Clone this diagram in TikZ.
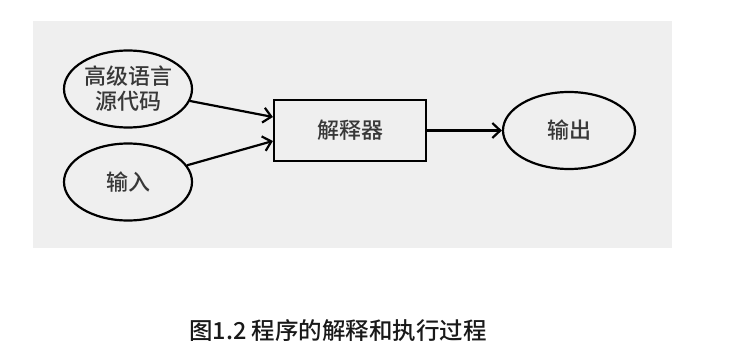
\documentclass[tikz,border=0pt]{standalone}
\usepackage{fontspec}
\setmainfont{Noto Sans CJK SC}[UprightFont=* Medium]
\usepackage{xcolor}
\definecolor{Panel}{HTML}{EFEFEF}
\definecolor{Ink}{HTML}{383838}
\usepackage{tikz}
\usetikzlibrary{arrows.meta,positioning,shapes.geometric}

\begin{document}
\begin{tikzpicture}[
  x=1pt,y=-1pt,
  every node/.style={font=\fontsize{22}{25}\selectfont,align=center,text=Ink},
  oval/.style={ellipse,draw=black,line width=2.2pt,inner sep=0pt,
    minimum width=128pt,minimum height=77pt},
  box/.style={rectangle,draw=black,line width=2.2pt,
    minimum width=152pt,minimum height=61pt},
  arrow/.style={-{Straight Barb[length=8pt,width=15pt]},line width=2.2pt}
]
\useasboundingbox (0,0) rectangle (738,353);
\fill[Panel] (33,21) rectangle (672,248);
\node[oval] (src) at (128,89) {高级语言\\源代码};
\node[oval] (input) at (128,182) {输入};
\node[box] (interp) at (350,130.5) {解释器};
\node[oval,minimum width=132pt,minimum height=77pt] (output) at (569,130.5) {输出};
\draw[arrow] (src) -- (interp.west|-0,117);
\draw[arrow] (input) -- (interp.west|-0,141);
\draw[arrow] (interp) -- (output);
\node[font=\fontsize{23.5}{26}\selectfont,text=black!90] (caption) at (338,331) {图1.2 程序的解释和执行过程};
\end{tikzpicture}
\end{document}
